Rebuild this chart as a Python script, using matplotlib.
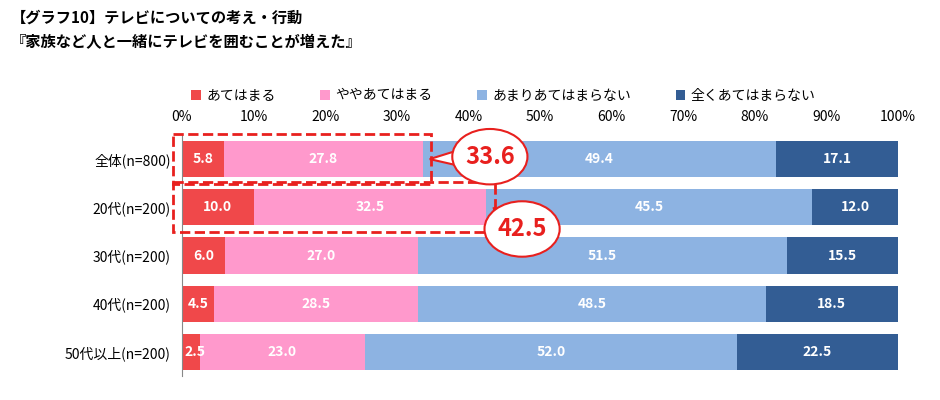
import matplotlib
matplotlib.use("Agg")
import matplotlib.pyplot as plt
from matplotlib.patches import Rectangle, Ellipse, Polygon

plt.rcParams["font.family"] = "Noto Sans CJK JP"

categories = ["全体(n=800)", "20代(n=200)", "30代(n=200)", "40代(n=200)", "50代以上(n=200)"]
series_names = ["あてはまる", "ややあてはまる", "あまりあてはまらない", "全くあてはまらない"]
s1 = [5.8, 10.0, 6.0, 4.5, 2.5]
s2 = [27.8, 32.5, 27.0, 28.5, 23.0]
s3 = [49.4, 45.5, 51.5, 48.5, 52.0]
s4 = [17.1, 12.0, 15.5, 18.5, 22.5]
callouts = [33.6, 42.5]
xticks = [0, 10, 20, 30, 40, 50, 60, 70, 80, 90, 100]
colors = ["#F0484A", "#FF99CC", "#8DB3E2", "#335D94"]

fig = plt.figure(figsize=(9.4, 4.0), dpi=100)
ax = fig.add_axes([0.1936, 0.06, 0.7617, 0.6025])
ys = list(range(len(categories)))
left = [0] * len(categories)
for vals, c, name in zip([s1, s2, s3, s4], colors, series_names):
    ax.barh(ys, vals, left=left, color=c, height=0.75, label=name)
    for y, v, l in zip(ys, vals, left):
        ax.text(l + v / 2 if v > 4 else l + 0.3, y, f"{v:.1f}", ha="center" if v > 4 else "left",
                va="center", color="white", fontsize=10, fontweight="bold")
    left = [a + b for a, b in zip(left, vals)]
ax.set_xlim(0, 100)
ax.set_ylim(4.5, -0.5)
ax.set_yticks(ys)
ax.set_yticklabels(categories, fontsize=10)
ax.set_xticks(xticks)
ax.set_xticklabels([f"{t}%" for t in xticks], fontsize=10)
ax.xaxis.tick_top()
ax.tick_params(length=0, pad=8)
for s in ["top", "right", "bottom"]:
    ax.spines[s].set_visible(False)
ax.spines["left"].set_color("#888888")

for i, val in enumerate(callouts):
    ax.add_patch(Rectangle((-1.2, i - 0.52), val + 2.4, 1.04, fill=False, ec="#E8201E",
                           ls="--", lw=2, clip_on=False, zorder=5))
bx = [[43.0, -0.05], [47.5, 1.45]]
for (x, y), val, i in zip(bx, callouts, range(2)):
    tail = Polygon([[val + 1.0, i], [x - 3, y - 0.2], [x - 2.5, y + 0.25]], closed=True,
                   fc="white", ec="#E8201E", lw=1.5, zorder=6, clip_on=False)
    ax.add_patch(tail)
    ax.add_patch(Ellipse((x, y), 10.5, 1.15, fc="white", ec="#E8201E", lw=1.5, zorder=7, clip_on=False))
    ax.text(x, y, f"{val}", ha="center", va="center", color="#E8201E", fontsize=17,
            fontweight="bold", zorder=8)

fig.legend(loc="upper left", bbox_to_anchor=(0.19, 0.81), ncol=4, frameon=False, fontsize=10,
           handlelength=0.7, handleheight=0.7, columnspacing=3.2, handletextpad=0.4)
fig.text(0.012, 0.955, "【グラフ10】テレビについての考え・行動", fontsize=11, fontweight="bold", va="center")
fig.text(0.012, 0.895, "『家族など人と一緒にテレビを囲むことが増えた』", fontsize=11, fontweight="bold", va="center")
fig.savefig("out.png")
